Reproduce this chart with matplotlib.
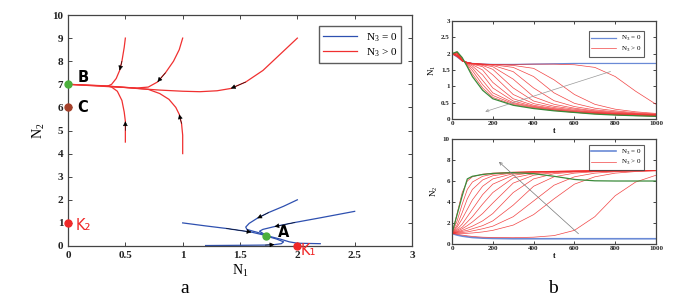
import numpy as np
import matplotlib.pyplot as plt

plt.rcParams['font.family'] = ['Liberation Serif', 'DejaVu Serif']
plt.rcParams['mathtext.fontset'] = 'custom'
plt.rcParams['mathtext.rm'] = 'Liberation Serif'

# ---- panel a: phase portrait (N1, N2) ----
# red trajectories (N3 > 0)
red_paths = [
    [(0.5, 9.0), (0.49, 8.6), (0.47, 8.0), (0.45, 7.6), (0.42, 7.25), (0.38, 7.0), (0.35, 6.93), (0.2, 6.96), (0.0, 7.0)],
    [(1.0, 9.0), (0.97, 8.5), (0.92, 8.0), (0.85, 7.5), (0.78, 7.1), (0.7, 6.88), (0.6, 6.84), (0.35, 6.9), (0.0, 7.0)],
    [(2.0, 9.0), (1.85, 8.3), (1.7, 7.6), (1.55, 7.1), (1.42, 6.82), (1.3, 6.72), (1.15, 6.68), (1.0, 6.7), (0.8, 6.75),
     (0.6, 6.82), (0.35, 6.92), (0.0, 7.0)],
    [(0.5, 4.5), (0.5, 5.0), (0.5, 5.4), (0.49, 5.8), (0.47, 6.3), (0.43, 6.7), (0.38, 6.88), (0.35, 6.92)],
    [(1.0, 4.0), (1.0, 4.8), (0.99, 5.3), (0.97, 5.7), (0.94, 6.0), (0.88, 6.35), (0.8, 6.6), (0.7, 6.78), (0.55, 6.85),
     (0.35, 6.92)],
]
red_arrow_at = [2, 3, 3, 1, 2]

# blue trajectories (N3 = 0)
blue_paths = [
    [(2.0, 2.0), (1.88, 1.72), (1.75, 1.45), (1.65, 1.2), (1.58, 0.98), (1.55, 0.82), (1.56, 0.72), (1.6, 0.66),
     (1.66, 0.58), (1.73, 0.45)],
    [(2.5, 1.5), (2.2, 1.22), (1.98, 1.02), (1.8, 0.84), (1.7, 0.72), (1.67, 0.64), (1.73, 0.45)],
    [(1.0, 1.0), (1.2, 0.87), (1.38, 0.76), (1.6, 0.6), (1.73, 0.45), (1.85, 0.3), (1.93, 0.18), (2.0, 0.12), (2.2, 0.1)],
    [(1.2, 0.02), (1.5, 0.03), (1.72, 0.04), (1.8, 0.06), (1.86, 0.1), (1.88, 0.18), (1.82, 0.3), (1.73, 0.43)],
]
blue_arrow_at = [2, 2, 2, 2]

eq_x = [0.0, 0.0, 0.0, 2.0, 1.73]
eq_y = [7.0, 6.0, 1.0, 0.0, 0.43]
eq_col = ['#4caf3c', '#a5402a', '#f02828', '#f02828', '#4caf3c']
eq_lab = ['B', 'C', 'K₂', 'K₁', 'A']
eq_lab_col = ['k', 'k', '#f02828', '#f02828', 'k']
eq_lab_bold = [True, True, False, False, True]
eq_lab_off = [(0.08, 0.3), (0.08, 0.0), (0.07, -0.1), (0.03, -0.2), (0.1, 0.15)]

# ---- panel b: time series ----
t = [0, 25, 50, 75, 100, 150, 200, 300, 400, 500, 600, 700, 800, 900, 1000]

n1_blue = [2.0, 1.9, 1.78, 1.73, 1.7, 1.68, 1.67, 1.67, 1.68, 1.69, 1.7, 1.7, 1.7, 1.7, 1.7]
n1_green = [2.0, 2.06, 1.88, 1.6, 1.3, 0.88, 0.62, 0.42, 0.32, 0.25, 0.2, 0.15, 0.12, 0.1, 0.08]
n1_red = [
    [2.0, 2.05, 1.85, 1.62, 1.38, 0.95, 0.66, 0.44, 0.33, 0.26, 0.2, 0.16, 0.13, 0.1, 0.09],
    [2.0, 2.04, 1.84, 1.66, 1.48, 1.05, 0.72, 0.47, 0.35, 0.27, 0.21, 0.17, 0.13, 0.11, 0.09],
    [2.0, 2.03, 1.82, 1.68, 1.56, 1.18, 0.8, 0.5, 0.37, 0.28, 0.22, 0.18, 0.14, 0.12, 0.1],
    [2.0, 2.02, 1.8, 1.7, 1.62, 1.35, 0.95, 0.55, 0.39, 0.3, 0.23, 0.19, 0.15, 0.12, 0.1],
    [2.0, 2.0, 1.79, 1.71, 1.66, 1.5, 1.12, 0.62, 0.42, 0.32, 0.25, 0.2, 0.16, 0.13, 0.11],
    [2.0, 1.98, 1.78, 1.72, 1.68, 1.6, 1.35, 0.75, 0.47, 0.35, 0.27, 0.21, 0.17, 0.14, 0.12],
    [2.0, 1.96, 1.78, 1.72, 1.69, 1.64, 1.52, 0.95, 0.55, 0.39, 0.3, 0.23, 0.18, 0.15, 0.12],
    [2.0, 1.95, 1.78, 1.73, 1.7, 1.66, 1.6, 1.22, 0.68, 0.45, 0.33, 0.25, 0.2, 0.16, 0.13],
    [2.0, 1.94, 1.78, 1.73, 1.7, 1.67, 1.64, 1.45, 0.95, 0.56, 0.38, 0.28, 0.22, 0.17, 0.14],
    [2.0, 1.93, 1.78, 1.73, 1.7, 1.68, 1.66, 1.58, 1.3, 0.8, 0.48, 0.33, 0.25, 0.19, 0.15],
    [2.0, 1.92, 1.78, 1.73, 1.7, 1.68, 1.67, 1.64, 1.55, 1.2, 0.75, 0.45, 0.3, 0.22, 0.17],
    [2.0, 1.91, 1.78, 1.73, 1.7, 1.68, 1.67, 1.67, 1.68, 1.68, 1.66, 1.58, 1.3, 0.85, 0.45],
]

n2_blue = [1.0, 0.85, 0.75, 0.68, 0.62, 0.56, 0.53, 0.5, 0.5, 0.5, 0.5, 0.5, 0.5, 0.5, 0.5]
n2_green = [1.0, 2.8, 4.6, 6.2, 6.45, 6.62, 6.72, 6.8, 6.7, 6.45, 6.15, 6.02, 6.0, 6.0, 6.0]
n2_red = [
    [1.0, 2.9, 4.9, 6.0, 6.4, 6.65, 6.75, 6.85, 6.9, 6.93, 6.95, 6.97, 6.98, 6.99, 7.0],
    [1.0, 2.2, 3.8, 5.2, 5.9, 6.45, 6.65, 6.82, 6.88, 6.92, 6.95, 6.97, 6.98, 6.99, 7.0],
    [1.0, 1.8, 3.0, 4.3, 5.2, 6.1, 6.5, 6.78, 6.87, 6.92, 6.95, 6.97, 6.98, 6.99, 7.0],
    [1.0, 1.6, 2.4, 3.3, 4.2, 5.5, 6.2, 6.7, 6.85, 6.9, 6.94, 6.96, 6.98, 6.99, 7.0],
    [1.0, 1.4, 1.9, 2.6, 3.3, 4.7, 5.7, 6.55, 6.8, 6.88, 6.93, 6.96, 6.98, 6.99, 7.0],
    [1.0, 1.3, 1.6, 2.1, 2.6, 3.8, 4.9, 6.3, 6.7, 6.85, 6.92, 6.95, 6.97, 6.99, 7.0],
    [1.0, 1.2, 1.45, 1.75, 2.1, 2.9, 3.9, 5.8, 6.55, 6.8, 6.9, 6.95, 6.97, 6.98, 7.0],
    [1.0, 1.15, 1.3, 1.5, 1.7, 2.2, 2.9, 4.9, 6.2, 6.7, 6.85, 6.92, 6.96, 6.98, 6.99],
    [1.0, 1.1, 1.2, 1.3, 1.45, 1.75, 2.2, 3.7, 5.5, 6.4, 6.75, 6.88, 6.94, 6.97, 6.99],
    [1.0, 1.05, 1.1, 1.15, 1.25, 1.45, 1.7, 2.6, 4.1, 5.6, 6.4, 6.75, 6.88, 6.95, 6.98],
    [1.0, 1.0, 1.0, 1.02, 1.05, 1.15, 1.3, 1.8, 2.8, 4.3, 5.7, 6.4, 6.75, 6.9, 6.97],
    [1.0, 0.92, 0.85, 0.78, 0.72, 0.65, 0.62, 0.6, 0.65, 0.8, 1.3, 2.6, 4.6, 5.9, 6.55],
]

n1_trend = [(790, 1.48), (150, 0.2)]
n2_trend = [(630, 0.8), (220, 8.0)]

BLUE = '#2e50b0'
RED = '#f03030'
GREEN = '#3a8a3a'
FRAME = '#444444'


def matlab_box(ax, size):
    for s in ax.spines.values():
        s.set_color(FRAME)
        s.set_linewidth(0.9)
    ax.tick_params(direction='in', top=True, right=True, length=3, width=0.7,
                   labelsize=size, colors=FRAME, labelcolor='#222222')
    for lab in ax.get_xticklabels() + ax.get_yticklabels():
        lab.set_fontweight('bold')


fig = plt.figure(figsize=(6.97, 3.07), dpi=100)

# panel a
ax = fig.add_axes([0.0976, 0.1987, 0.4935, 0.7524])
for i, p in enumerate(blue_paths):
    p = np.array(p)
    ax.plot(p[:, 0], p[:, 1], color=BLUE, lw=0.9, label='N$_3$ = 0' if i == 0 else None)
    k = blue_arrow_at[i]
    ax.annotate('', xy=p[k + 1], xytext=p[k],
                arrowprops=dict(arrowstyle='-|>', color='k', lw=0.4, mutation_scale=7, shrinkA=0, shrinkB=0))
for i, p in enumerate(red_paths):
    p = np.array(p)
    ax.plot(p[:, 0], p[:, 1], color=RED, lw=0.9, label='N$_3$ > 0' if i == 0 else None)
    k = red_arrow_at[i]
    ax.annotate('', xy=p[k + 1], xytext=p[k],
                arrowprops=dict(arrowstyle='-|>', color='k', lw=0.4, mutation_scale=7, shrinkA=0, shrinkB=0))
for x, y, c, lab, lc, bold, off in zip(eq_x, eq_y, eq_col, eq_lab, eq_lab_col, eq_lab_bold, eq_lab_off):
    ax.plot(x, y, 'o', color=c, ms=5, clip_on=False, zorder=5)
    ax.text(x + off[0], y + off[1], lab, color=lc, fontsize=10.5, fontweight='bold' if bold else 'normal',
            family=['DejaVu Sans'], va='center', ha='left')
ax.set_xlim(0, 3)
ax.set_ylim(0, 10)
ax.set_xticks([0, 0.5, 1, 1.5, 2, 2.5, 3])
ax.set_xticklabels(['0', '0.5', '1', '1.5', '2', '2.5', '3'])
ax.set_yticks(range(0, 11))
ax.set_xlabel('N$_1$', fontsize=10, labelpad=2)
ax.set_ylabel('N$_2$', fontsize=10, labelpad=4)
leg = ax.legend(loc='upper right', fontsize=8, frameon=True, fancybox=False, handlelength=3,
                borderpad=0.4, labelspacing=0.2, bbox_to_anchor=(0.985, 0.975))
leg.get_frame().set_edgecolor('#333333')
leg.get_frame().set_linewidth(1.0)
matlab_box(ax, 8)
fig.text(0.265, 0.045, 'a', fontsize=14, ha='center')

# panel b, top: N1(t)
ax1 = fig.add_axes([0.6485, 0.6124, 0.2927, 0.3192])
ax1.plot(t, n1_blue, color='#6a8ad6', lw=0.9, label='N$_3$ = 0')
for i, v in enumerate(n1_red):
    ax1.plot(t, v, color=RED, lw=0.5, alpha=0.9, label='N$_3$ > 0' if i == 0 else None)
ax1.plot(t, n1_green, color=GREEN, lw=0.9)
ax1.annotate('', xy=n1_trend[1], xytext=n1_trend[0],
             arrowprops=dict(arrowstyle='->', color='#999999', lw=0.5, mutation_scale=5))
ax1.set_xlim(0, 1000)
ax1.set_ylim(0, 3)
ax1.set_xticks(range(0, 1001, 200))
ax1.set_yticks([0, 0.5, 1, 1.5, 2, 2.5, 3])
ax1.set_yticklabels(['0', '0.5', '1', '1.5', '2', '2.5', '3'])
ax1.set_xlabel('t', fontsize=5.5, labelpad=1, fontweight='bold')
ax1.set_ylabel('N$_1$', fontsize=6.5, labelpad=2)
leg1 = ax1.legend(loc='upper right', fontsize=5, fancybox=False, handlelength=3.5,
                  borderpad=0.4, labelspacing=0.2, bbox_to_anchor=(0.96, 0.93))
leg1.get_frame().set_edgecolor('#333333')
leg1.get_frame().set_linewidth(0.8)
matlab_box(ax1, 5)
ax1.tick_params(length=2, pad=1.5)

# panel b, bottom: N2(t)
ax2 = fig.add_axes([0.6485, 0.2052, 0.2927, 0.342])
ax2.plot(t, n2_blue, color='#6a8ad6', lw=1.2, label='N$_3$ = 0')
for i, v in enumerate(n2_red):
    ax2.plot(t, v, color=RED, lw=0.5, alpha=0.9, label='N$_3$ > 0' if i == 0 else None)
ax2.plot(t, n2_green, color=GREEN, lw=0.9)
ax2.annotate('', xy=n2_trend[1], xytext=n2_trend[0],
             arrowprops=dict(arrowstyle='->', color='#777777', lw=0.5, mutation_scale=5))
ax2.set_xlim(0, 1000)
ax2.set_ylim(0, 10)
ax2.set_xticks(range(0, 1001, 200))
ax2.set_yticks(range(0, 11, 2))
ax2.set_xlabel('t', fontsize=5.5, labelpad=1, fontweight='bold')
ax2.set_ylabel('N$_2$', fontsize=6.5, labelpad=2)
leg2 = ax2.legend(loc='upper right', fontsize=5, fancybox=False, handlelength=3.5,
                  borderpad=0.4, labelspacing=0.2, bbox_to_anchor=(0.96, 0.98))
leg2.get_frame().set_edgecolor('#333333')
leg2.get_frame().set_linewidth(0.8)
matlab_box(ax2, 5)
ax2.tick_params(length=2, pad=1.5)
fig.text(0.793, 0.045, 'b', fontsize=14, ha='center')

fig.savefig('out.png', dpi=100)
